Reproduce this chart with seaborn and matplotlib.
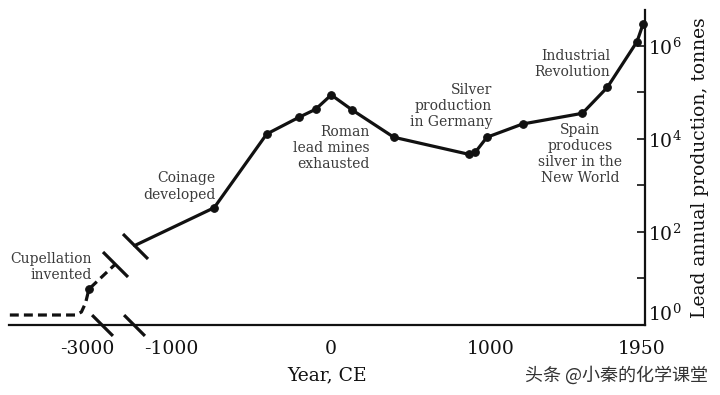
import numpy as np
import matplotlib
matplotlib.use("Agg")
import matplotlib.pyplot as plt
import seaborn as sns

# ====== data (year CE, lead production in tonnes / year) ======
early_years = [-4850, -3280, -3140, -3040, -2960, -2325]
early_tonnes = [1.64, 1.64, 1.9, 2.97, 5.9, 20.5]

main_years = [-1868, -729, -400, -198, -94, 4, 136, 396, 864, 906, 979,
              1202, 1577, 1733, 1919, 1956]
main_tonnes = [51, 333, 12800, 29300, 43500, 88600, 41900, 10900, 4700,
               5180, 10900, 21000, 35700, 129000, 1.24e6, 2.9e6]

xtick_pos = [-3000, -1000, -500, 0, 500, 1000, 1500, 1950]
xtick_labels = ["-3000", "-1000", "", "0", "", "1000", "", "1950"]
ytick_major = [1, 1e2, 1e4, 1e6]
ytick_labels = [r"$10^{0}$", r"$10^{2}$", r"$10^{4}$", r"$10^{6}$"]
ytick_minor = [1e1, 1e3, 1e5]

# axis / curve breaks
xbreak_years = [-2647, -1871]
curve_break_years = [-2325, -1868]
curve_break_tonnes = [20.5, 51]

# notes: (text, year, tonnes, ha)
notes = [
    ("Cupellation\ninvented", -2897, 17.4, "right"),
    ("Coinage\ndeveloped", -719, 955, "right"),
    ("Roman\nlead mines\nexhausted", 244, 6450, "right"),
    ("Silver\nproduction\nin Germany", 1012, 51300, "right"),
    ("Industrial\nRevolution", 1750, 407000, "right"),
    ("Spain\nproduces\nsilver in the\nNew World", 1562, 4800, "center"),
]

# ====== style ======
sns.set_style("white")
plt.rcParams["font.family"] = ["DejaVu Serif", "Noto Sans CJK SC"]
plt.rcParams["mathtext.fontset"] = "dejavuserif"

K = 0.262  # compression before -1000


def fwd(x):
    x = np.asarray(x, dtype=float)
    return np.where(x >= -1000, x, -1000 + (x + 1000) * K)


def inv(x):
    x = np.asarray(x, dtype=float)
    return np.where(x >= -1000, x, -1000 + (x + 1000) / K)


fig = plt.figure(figsize=(7.2, 3.95), dpi=100)
ax = fig.add_axes([9 / 720, 70 / 395, 636 / 720, 315 / 395])

ink = "#111111"
sns.lineplot(x=early_years, y=early_tonnes, ax=ax, color=ink, lw=2.3,
             linestyle=(0, (2.8, 1.6)), marker="o", ms=5.5, mec=ink,
             markevery=[4], sort=False)
sns.lineplot(x=main_years, y=main_tonnes, ax=ax, color=ink, lw=2.3,
             marker="o", ms=5.5, mec=ink,
             markevery=list(range(1, len(main_years))), sort=False,
             clip_on=False)

ax.set_xscale("function", functions=(fwd, inv))
ax.set_yscale("log")
ax.set_xlim(-4870, 1969)
ax.set_ylim(1, 10 ** 6.774)

# break marks
ax.plot(curve_break_years, curve_break_tonnes, linestyle="none",
        marker=[(-1, 1), (1, -1)], markersize=18, mew=2.3, mec=ink,
        clip_on=False)
ax.plot(xbreak_years, [0, 0], transform=ax.get_xaxis_transform(),
        linestyle="none", marker=[(-1, 1), (1, -1)], markersize=15,
        mew=2.3, mec=ink, clip_on=False)

for text, x, y, ha in notes:
    ax.text(x, y, text, ha=ha, va="center", multialignment=ha,
            fontsize=10, color="#3a3a3a", linespacing=1.2)

# axes
for side in ["left", "top"]:
    ax.spines[side].set_visible(False)
for side in ["bottom", "right"]:
    ax.spines[side].set_linewidth(1.6)
    ax.spines[side].set_color(ink)

ax.set_xticks(xtick_pos)
ax.set_xticklabels(xtick_labels)
ax.xaxis.set_minor_locator(matplotlib.ticker.NullLocator())
ax.yaxis.tick_right()
ax.set_yticks(ytick_major)
ax.set_yticklabels(ytick_labels)
ax.set_yticks(ytick_minor, minor=True)
ax.yaxis.set_minor_formatter(matplotlib.ticker.NullFormatter())
ax.tick_params(axis="x", direction="in", length=6, width=1.2,
               pad=11, labelsize=13.5, colors=ink)
ax.tick_params(axis="y", which="both", direction="in", length=6, width=1.2,
               pad=2, labelsize=13.5, colors=ink)
# 10^0 sits just above the axis line, as in the original
ax.get_yticklabels()[0].set_va("bottom")

ax.set_xlabel("Year, CE", fontsize=13.5, labelpad=6, color=ink)
ax.yaxis.set_label_position("right")
ax.set_ylabel("Lead annual production, tonnes", fontsize=13.5,
              rotation=90, labelpad=7, color=ink)

fig.text(708 / 720, 1 - 375 / 395, "头条 @小秦的化学课堂", ha="right",
         va="center", fontsize=13, color="#333333",
         family=["Noto Sans CJK SC", "DejaVu Sans"])

fig.savefig("out.png", dpi=100)
